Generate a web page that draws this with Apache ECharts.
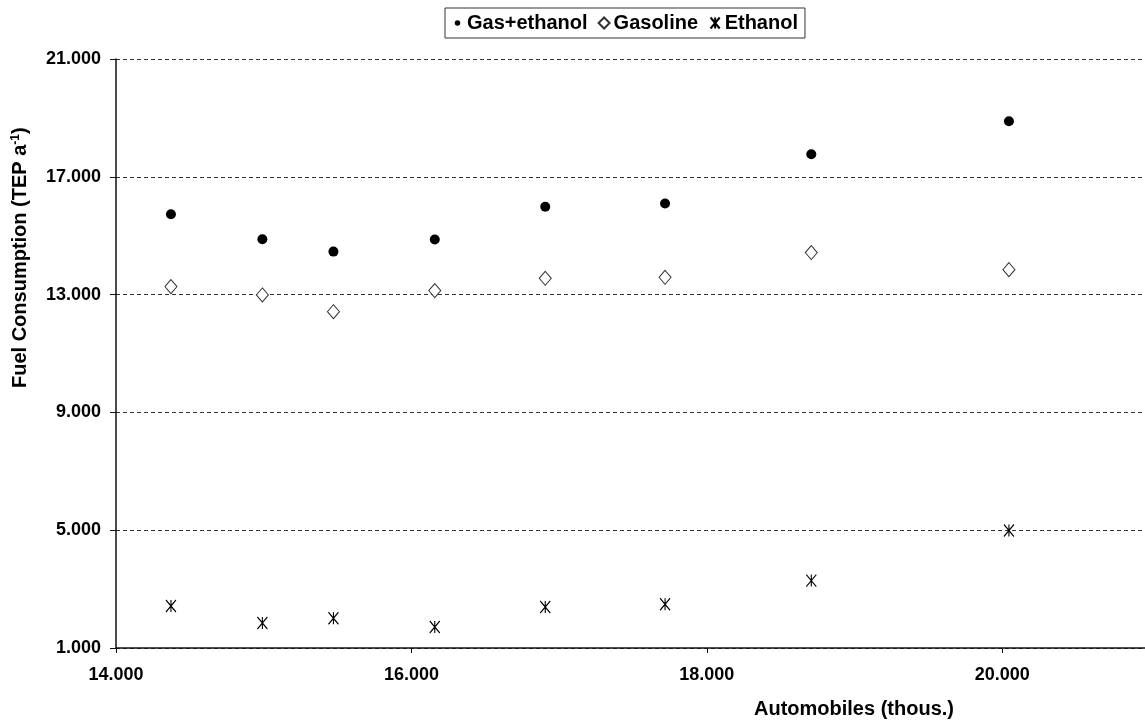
<!DOCTYPE html>
<html>
<head>
<meta charset="utf-8">
<title>Fuel consumption vs automobiles</title>
<script src="https://cdn.jsdelivr.net/npm/echarts@6/dist/echarts.min.js"></script>
<style>
  html, body { margin: 0; padding: 0; background: #fff; overflow: hidden; }
  #chart { width: 1150px; height: 722px; }
</style>
</head>
<body>
<div id="chart"></div>
<script>
// Automobile fleet (thousands) for each observation
const automobiles = [14372, 14991, 15472, 16158, 16906, 17717, 18707, 20045];
// Fuel consumption, TEP per year
const gasEthanol = [15728, 14878, 14460, 14868, 15980, 16092, 17768, 18889];
const gasoline   = [13271, 12988, 12421, 13135, 13553, 13587, 14426, 13848];
const ethanol    = [2428, 1850, 2010, 1714, 2394, 2485, 3288, 4987];

const seriesNames = ['Gas+ethanol', 'Gasoline', 'Ethanol'];
const xTitle = 'Automobiles (thous.)';

const FONT = '"Liberation Sans", Arial, sans-serif';
const STAR = 'path://M0,0L10,12M10,0L0,12M5,0L5,12';
// small dot inside a larger 12x12 box so the legend bullet stays small
const SMALL_DOT = 'path://M0,0M12,12M9,6A3,3,0,1,1,3,6A3,3,0,1,1,9,6Z';

function pairs(ys) { return automobiles.map((x, i) => [x, ys[i]]); }
function fmt(v) { return (v / 1000).toFixed(3); }

const chart = echarts.init(document.getElementById('chart'), null, { renderer: 'canvas' });

chart.setOption({
  animation: false,
  backgroundColor: '#fff',
  textStyle: { fontFamily: FONT },
  grid: { left: 116, top: 59, right: 0, bottom: 74, containLabel: false },
  legend: {
    left: 445, top: 8,
    padding: [5, 7, 5, 7],
    borderColor: '#333', borderWidth: 1,
    itemGap: 10, itemWidth: 11, itemHeight: 11,
    textStyle: { fontFamily: FONT, fontSize: 20, fontWeight: 'bold', color: '#000', padding: [0, 0, 0, -1] },
    data: [
      { name: seriesNames[0], icon: SMALL_DOT, itemStyle: { color: '#000' } },
      { name: seriesNames[1], icon: 'diamond' },
      { name: seriesNames[2], icon: STAR }
    ]
  },
  xAxis: {
    type: 'value', min: 14000, max: 21000, interval: 2000,
    axisLine: { show: true, lineStyle: { color: '#111', width: 1.5 } },
    axisTick: { show: true, inside: false, length: 5, lineStyle: { color: '#111', width: 1 } },
    axisLabel: { formatter: fmt, showMaxLabel: false, margin: 18,
                 fontFamily: FONT, fontSize: 18, fontWeight: 'bold', color: '#000' },
    splitLine: { show: false }
  },
  yAxis: {
    type: 'value', min: 1000, max: 21000, interval: 4000,
    axisLine: { show: true, lineStyle: { color: '#111', width: 1.5 } },
    axisTick: { show: true, inside: false, length: 6, lineStyle: { color: '#111', width: 1 } },
    axisLabel: { formatter: fmt, margin: 15,
                 fontFamily: FONT, fontSize: 18, fontWeight: 'bold', color: '#000' },
    splitLine: { show: true, lineStyle: { color: '#333', width: 1, type: [4, 3] } }
  },
  series: [
    {
      name: seriesNames[0], type: 'scatter', data: pairs(gasEthanol),
      symbol: 'circle', symbolSize: 10,
      itemStyle: { color: '#000', opacity: 1 }
    },
    {
      name: seriesNames[1], type: 'scatter', data: pairs(gasoline),
      symbol: 'diamond', symbolSize: [12, 14],
      itemStyle: { color: '#fff', borderColor: '#333', borderWidth: 1, opacity: 1 }
    },
    {
      name: seriesNames[2], type: 'scatter', data: pairs(ethanol),
      symbol: STAR, symbolSize: [10, 12],
      itemStyle: { color: 'none', borderColor: '#000', borderWidth: 1.2, opacity: 1 }
    }
  ],
  graphic: [
    {
      type: 'text', left: 754, top: 699,
      style: { text: xTitle, font: 'bold 20px ' + FONT, fill: '#000' }
    },
    {
      type: 'text', x: 10, y: 388, rotation: Math.PI / 2,
      style: {
        text: '{a|Fuel Consumption (TEP a}{s|-1}{a|)}',
        rich: {
          a: { fill: '#000', fontFamily: FONT, fontSize: 20, fontWeight: 'bold' },
          s: { fill: '#000', fontFamily: FONT, fontSize: 12, fontWeight: 'bold', verticalAlign: 'top', padding: [0, 0, 8, 0] }
        }
      }
    }
  ]
});
</script>
</body>
</html>
